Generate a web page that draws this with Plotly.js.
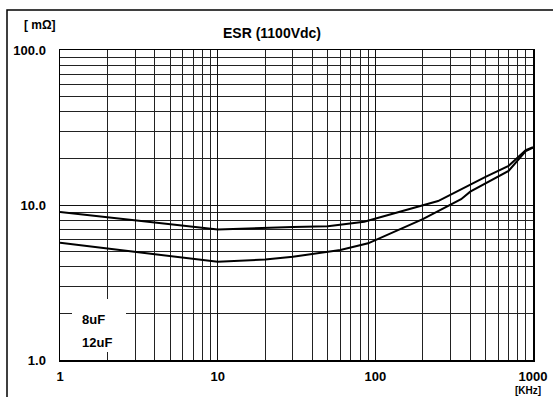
<!DOCTYPE html>
<html><head><meta charset="utf-8">
<script src="https://cdn.plot.ly/plotly-3.0.1.min.js"></script>
<style>html,body{margin:0;padding:0;background:#fff}#chart{width:553px;height:397px}</style>
</head><body><div id="chart"></div>
<script>
// Frequency (kHz) and ESR (mOhm)
var freq8 = [1, 10, 30, 50, 85, 200, 250, 500, 700, 900, 1000];
var esr8 = [9.0, 6.95, 7.2, 7.3, 7.8, 9.9, 10.6, 15.2, 17.9, 22.6, 23.6];
var freq12 = [1, 10, 20, 30, 60, 90, 200, 350, 400, 700, 900, 1000];
var esr12 = [5.7, 4.3, 4.45, 4.64, 5.12, 5.66, 8.1, 10.9, 12.2, 16.6, 22.3, 23.4];
var seriesNames = ["8uF", "12uF"];
var xTickVals = [1, 10, 100, 1000];
var xTickText = ["1", "10", "100", "1000"];
var yTickVals = [1, 10, 100];
var yTickText = ["1.0", "10.0", "100.0"];
var minorX = [2,3,4,5,6,7,8,9,20,30,40,50,60,70,80,90,200,300,400,500,600,700,800,900];
var minorY = [2,3,4,5,6,7,8,9,20,30,40,50,60,70,80,90];

var fontFam = "Liberation Sans, Arial, sans-serif";
function b(a){return a.map(function(s){return "<b>"+s+"</b>";});}

var traces = [
  {x: freq8, y: esr8, name: seriesNames[0], mode: "lines", line: {color: "#000", width: 2}},
  {x: freq12, y: esr12, name: seriesNames[1], mode: "lines", line: {color: "#000", width: 2}}
];

var layout = {
  width: 553, height: 397,
  margin: {l: 60, r: 20, t: 50, b: 37},
  paper_bgcolor: "#fff", plot_bgcolor: "#fff",
  showlegend: false,
  font: {family: fontFam, color: "#000"},
  title: {text: "<b>ESR (1100Vdc)</b>", x: 272/553, xanchor: "center", y: 1 - 33/397, yanchor: "middle",
          font: {size: 14, family: fontFam, color: "#000"}},
  xaxis: {
    type: "log", range: [0, 3],
    tickmode: "array", tickvals: xTickVals, ticktext: b(xTickText),
    tickfont: {size: 13, family: fontFam, color: "#000"},
    ticks: "", ticklabelstandoff: 4,
    showgrid: true, gridcolor: "#111", gridwidth: 1,
    minor: {tickmode: "array", tickvals: minorX, showgrid: true, gridcolor: "#222", gridwidth: 1, ticks: ""},
    showline: true, linecolor: "#000", linewidth: 1.5, mirror: true, zeroline: false
  },
  yaxis: {
    type: "log", range: [0, 2],
    tickmode: "array", tickvals: yTickVals, ticktext: b(yTickText),
    tickfont: {size: 13, family: fontFam, color: "#000"},
    ticks: "", ticklabelstandoff: 10,
    showgrid: true, gridcolor: "#111", gridwidth: 1,
    minor: {tickmode: "array", tickvals: minorY, showgrid: true, gridcolor: "#222", gridwidth: 1, ticks: ""},
    showline: true, linecolor: "#000", linewidth: 1.5, mirror: true, zeroline: false
  },
  shapes: [
    {type: "rect", xref: "paper", yref: "paper",
     x0: (7-60)/473, x1: (600-60)/473, y0: (360-420)/310, y1: (360-10)/310,
     line: {color: "#000", width: 1.5}, fillcolor: "rgba(0,0,0,0)", layer: "below"},
    {type: "rect", xref: "paper", yref: "paper",
     x0: (72-60)/473, x1: (126-60)/473, y0: (360-352)/310, y1: (360-299)/310,
     line: {width: 0}, fillcolor: "#fff", layer: "above"}
  ],
  annotations: [
    {text: "<b>[ mΩ]</b>", xref: "paper", yref: "paper", x: (40-60)/473, y: (360-25)/310,
     xanchor: "center", yanchor: "middle", showarrow: false, font: {size: 12, family: fontFam}},
    {text: "<b>[KHz]</b>", xref: "paper", yref: "paper", x: (514-60)/473, y: (360-397)/310,
     xanchor: "left", yanchor: "bottom", showarrow: false, font: {size: 10, family: fontFam},
     borderpad: 0},
    {text: "<b>" + seriesNames[0] + "</b>", xref: "paper", yref: "paper", x: (80-60)/473, y: (360-319)/310,
     xanchor: "left", yanchor: "middle", showarrow: false, font: {size: 13, family: fontFam}},
    {text: "<b>" + seriesNames[1] + "</b>", xref: "paper", yref: "paper", x: (80-60)/473, y: (360-342)/310,
     xanchor: "left", yanchor: "middle", showarrow: false, font: {size: 13, family: fontFam}}
  ]
};

Plotly.newPlot("chart", traces, layout, {displayModeBar: false, staticPlot: true});
</script></body></html>
